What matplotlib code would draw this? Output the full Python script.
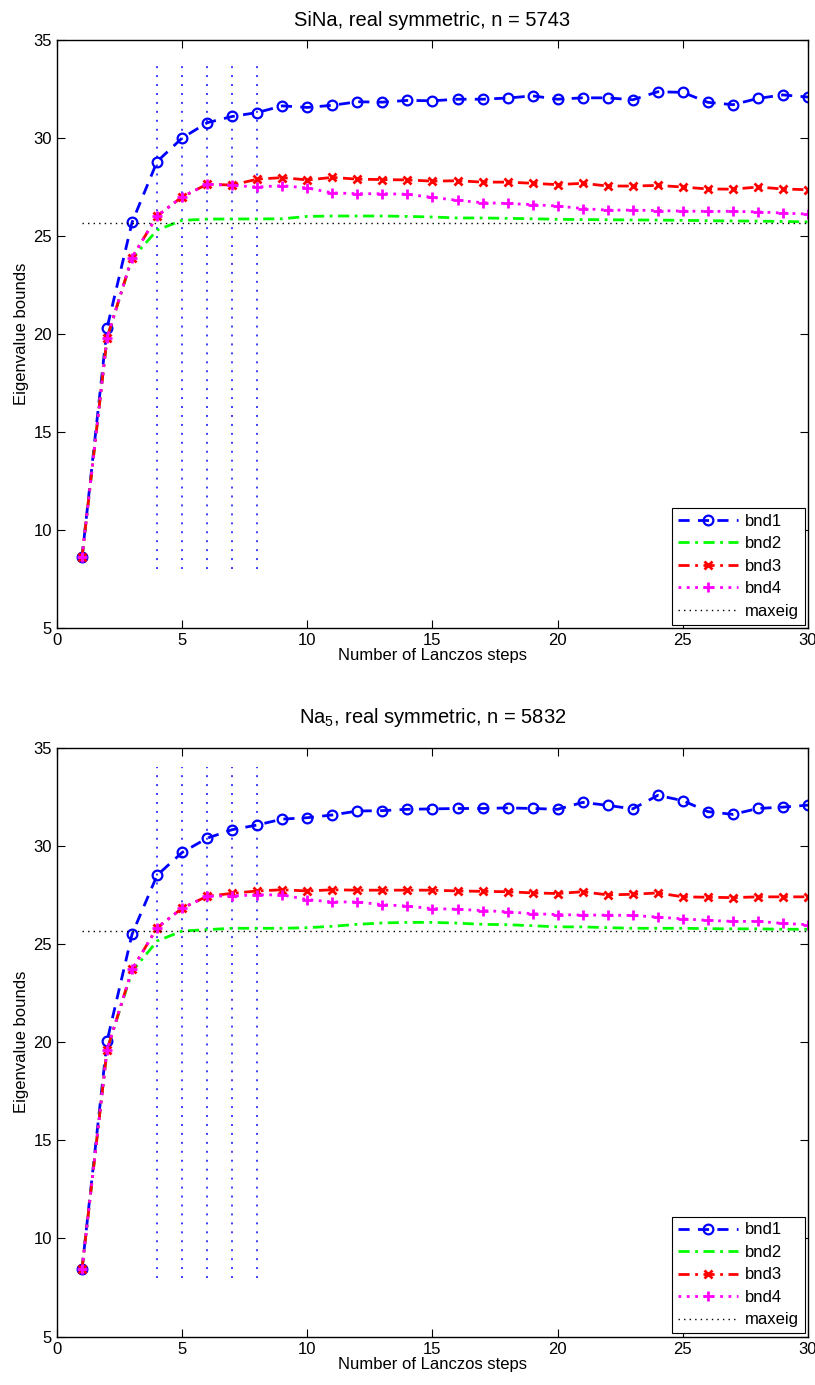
import matplotlib
matplotlib.use("Agg")
import matplotlib.pyplot as plt
import numpy as np

plt.rcParams['font.family'] = ['Liberation Sans', 'DejaVu Sans']
plt.rcParams['mathtext.fontset'] = 'custom'
plt.rcParams['mathtext.rm'] = 'Liberation Sans'
plt.rcParams['mathtext.default'] = 'regular'

steps = np.arange(1, 31)

# SiNa
sina_bnd1 = [8.6, 20.3, 25.7, 28.8, 30.0, 30.78, 31.1, 31.3, 31.64, 31.56,
             31.67, 31.85, 31.83, 31.92, 31.9, 31.98, 31.98, 32.04, 32.15, 31.98,
             32.05, 32.05, 31.95, 32.36, 32.33, 31.82, 31.7, 32.02, 32.2, 32.09]
sina_bnd2 = [8.6, 19.8, 23.85, 25.3, 25.8, 25.86, 25.87, 25.87, 25.88, 26.0,
             26.02, 26.02, 26.02, 26.0, 25.97, 25.92, 25.92, 25.9, 25.88, 25.85,
             25.84, 25.83, 25.82, 25.81, 25.8, 25.78, 25.77, 25.76, 25.74, 25.72]
sina_bnd3 = [8.6, 19.8, 23.9, 26.02, 27.0, 27.64, 27.6, 27.9, 27.98, 27.86,
             27.99, 27.9, 27.88, 27.86, 27.8, 27.82, 27.75, 27.75, 27.69, 27.62,
             27.69, 27.55, 27.55, 27.58, 27.5, 27.4, 27.39, 27.5, 27.4, 27.36]
sina_bnd4 = [8.6, 19.8, 23.9, 26.02, 27.0, 27.64, 27.58, 27.5, 27.57, 27.45,
             27.2, 27.16, 27.16, 27.13, 26.97, 26.82, 26.7, 26.66, 26.6, 26.53,
             26.4, 26.32, 26.32, 26.3, 26.27, 26.26, 26.26, 26.23, 26.17, 26.12]
sina_maxeig = 25.65

# Na5
na5_bnd1 = [8.45, 20.05, 25.5, 28.5, 29.66, 30.39, 30.82, 31.06, 31.36, 31.43,
            31.57, 31.77, 31.79, 31.86, 31.88, 31.9, 31.9, 31.93, 31.9, 31.86,
            32.21, 32.06, 31.88, 32.57, 32.3, 31.74, 31.6, 31.9, 31.97, 32.07]
na5_bnd2 = [8.45, 19.6, 23.6, 25.15, 25.66, 25.73, 25.8, 25.8, 25.8, 25.83,
            25.9, 26.0, 26.07, 26.1, 26.1, 26.06, 26.0, 25.98, 25.93, 25.87,
            25.87, 25.83, 25.8, 25.8, 25.8, 25.78, 25.77, 25.77, 25.75, 25.75]
na5_bnd3 = [8.45, 19.6, 23.7, 25.83, 26.82, 27.43, 27.58, 27.7, 27.76, 27.7,
            27.76, 27.74, 27.74, 27.74, 27.74, 27.7, 27.68, 27.66, 27.6, 27.57,
            27.66, 27.5, 27.53, 27.6, 27.4, 27.38, 27.36, 27.4, 27.4, 27.4]
na5_bnd4 = [8.45, 19.6, 23.7, 25.83, 26.82, 27.43, 27.45, 27.5, 27.5, 27.26,
            27.14, 27.14, 27.0, 26.93, 26.8, 26.77, 26.7, 26.64, 26.54, 26.5,
            26.47, 26.47, 26.45, 26.37, 26.28, 26.2, 26.15, 26.15, 26.05, 25.98]
na5_maxeig = 25.65

vsteps = [4, 5, 6, 7, 8]

panels = [
    ('SiNa, real symmetric, n = 5743', sina_bnd1, sina_bnd2, sina_bnd3, sina_bnd4, sina_maxeig, 10),
    ('Na$_5$, real symmetric, n = 5832', na5_bnd1, na5_bnd2, na5_bnd3, na5_bnd4, na5_maxeig, 17.5),
]

fig = plt.figure(figsize=(8.15, 13.85), dpi=100)
rects = [[0.0699, 0.5466, 0.9215, 0.4245], [0.0699, 0.0349, 0.9215, 0.4253]]

for rect, (title, b1, b2, b3, b4, mx, tpad) in zip(rects, panels):
    ax = fig.add_axes(rect)
    for v in vsteps:
        ax.plot([v, v], [8, 34], color='#3c3cff', lw=1.4, ls=(0, (1, 3.6)))
    ax.plot(steps, b1, color='b', lw=2, ls=(0, (4, 3)), marker='o', ms=7,
            mfc='none', mew=1.6, label='bnd1')
    ax.plot(steps, b2, color='#00ff00', lw=2, ls=(0, (4, 2, 1, 2)),
            label='bnd2')
    ax.plot(steps, b3, color='r', lw=2, ls=(0, (4, 2, 1, 2)), marker='x',
            ms=5.5, mew=2, label='bnd3')
    ax.plot(steps, b4, color='#ff00ff', lw=2, ls=(0, (1, 2)), marker='+',
            ms=7.5, mew=2, label='bnd4')
    ax.plot([steps[0], steps[-1]], [mx, mx], color='k', lw=1,
            ls=(0, (1, 3)), label='maxeig')
    ax.set_xlim(0, 30)
    ax.set_ylim(5, 35)
    ax.set_xticks([0, 5, 10, 15, 20, 25, 30])
    ax.set_yticks([5, 10, 15, 20, 25, 30, 35])
    ax.tick_params(direction='in', top=True, right=True, length=6,
                   labelsize=12, width=0.8)
    for s in ax.spines.values():
        s.set_linewidth(1.0)
    ax.set_title(title, fontsize=14.5, pad=tpad)
    ax.set_xlabel('Number of Lanczos steps', fontsize=12, labelpad=0)
    ax.set_ylabel('Eigenvalue bounds', fontsize=12, labelpad=3)
    leg = ax.legend(loc='lower right', fontsize=12, fancybox=False,
                    framealpha=1, edgecolor='k', handlelength=3.6,
                    borderaxespad=0.2, labelspacing=0.45, handletextpad=0.4,
                    borderpad=0.35)
    leg.get_frame().set_linewidth(0.8)

fig.savefig('out.png', dpi=100)
